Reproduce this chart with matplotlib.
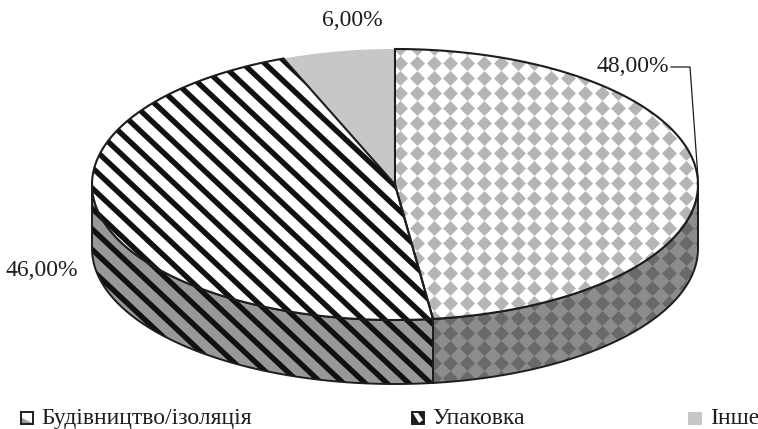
import numpy as np
import matplotlib
matplotlib.use('Agg')
import matplotlib.pyplot as plt
from matplotlib.patches import Polygon, Rectangle

# data
names = ['Будівництво/ізоляція', 'Упаковка', 'Інше']
shares = [48.0, 46.0, 6.0]
share_labels = ['48,00%', '46,00%', '6,00%']

plt.rcParams['font.family'] = ['Liberation Serif', 'DejaVu Serif']

W, H = 758, 429
cx, cy, a, b = 395, 184.5, 303, 135.5
depth = 64
INK = '#1e1c1d'
FS = 17

fig = plt.figure(figsize=(W / 100, H / 100), dpi=100)
ax = fig.add_axes([0, 0, 1, 1])
ax.set_xlim(0, W)
ax.set_ylim(H, 0)
ax.axis('off')


def arc(t0, t1, dy=0):
    t = np.radians(np.linspace(t0, t1, 200))
    return np.column_stack([cx + a * np.sin(t), cy - b * np.cos(t) + dy])


def diamonds(patch, color, z):
    xs = 400 + 16.8 * np.arange(-1, 20)
    ys = 63.3 + 15.0 * np.arange(-2, 23)
    gx, gy = np.meshgrid(xs, ys)
    pts = ax.scatter(gx.ravel(), gy.ravel(), marker='D', s=58, color=color,
                     linewidths=0, zorder=z)
    pts.set_clip_path(patch)


def stripes(patch, z):
    for c in np.arange(-1 - 20.5 * 30, 500, 20.5):
        ln, = ax.plot([0, W], [c, c + W * 0.94], color='#111111', lw=3.9,
                      solid_capstyle='butt', zorder=z)
        ln.set_clip_path(patch)


angles = np.cumsum([0] + shares) * 3.6

# side walls
wall1 = np.vstack([arc(90, angles[1]), arc(90, angles[1], depth)[::-1]])
wall2 = np.vstack([arc(angles[1], 270), arc(angles[1], 270, depth)[::-1]])
p1 = Polygon(wall1, closed=True, fc='#8b8c8e', ec='none', zorder=1)
p2 = Polygon(wall2, closed=True, fc='#97989a', ec='none', zorder=1)
ax.add_patch(p1)
ax.add_patch(p2)
diamonds(p1, '#68696b', 2)
stripes(p2, 2)
ax.add_patch(Polygon(wall1, closed=True, fc='none', ec=INK, lw=1.4, zorder=3))
ax.add_patch(Polygon(wall2, closed=True, fc='none', ec=INK, lw=1.4, zorder=3))

# top slices
tops = []
for i in range(3):
    tops.append(np.vstack([[cx, cy], arc(angles[i], angles[i + 1])]))
s1 = Polygon(tops[0], closed=True, fc='white', ec='none', zorder=4)
s2 = Polygon(tops[1], closed=True, fc='white', ec='none', zorder=4)
s3 = Polygon(tops[2], closed=True, fc='#c6c7c9', ec='none', zorder=4)
ax.add_patch(s1)
ax.add_patch(s2)
ax.add_patch(s3)
diamonds(s1, '#b3b5b8', 5)
stripes(s2, 5)
ax.add_patch(Polygon(tops[0], closed=True, fc='none', ec=INK, lw=1.5, zorder=6))
ax.add_patch(Polygon(tops[1], closed=True, fc='none', ec=INK, lw=1.5, zorder=6))

# labels
ax.text(669, 67, share_labels[0], ha='right', va='center', fontsize=FS, color=INK)
ax.text(78, 271, share_labels[1], ha='right', va='center', fontsize=FS, color=INK)
ax.text(352, 20, share_labels[2], ha='center', va='center', fontsize=FS, color=INK)
ax.plot([671, 690, 698], [67, 67, 178], color=INK, lw=0.9, zorder=7)

# legend
lx = [21, 412, 688]
tx = [41, 432, 710]
ax.add_patch(Rectangle((lx[0], 412), 12, 12, fc='white', ec=INK, lw=1.4))
ax.add_patch(Polygon([[lx[0] + 1, 423], [lx[0] + 1, 418], [lx[0] + 11, 423]],
                     closed=True, fc='#9a9b9d', ec='none', zorder=3))
ax.add_patch(Rectangle((lx[1], 412), 12, 12, fc=INK, ec=INK, lw=1.4))
ax.add_patch(Polygon([[lx[1] + 1, 413], [lx[1] + 6, 413], [lx[1] + 11, 420], [lx[1] + 7, 423]],
                     closed=True, fc='white', ec='none', zorder=3))
ax.add_patch(Rectangle((lx[2], 412), 14, 13, fc='#c6c7c9', ec='none'))
for x, name in zip(tx, names):
    ax.text(x, 424, name, ha='left', va='baseline', fontsize=FS, color=INK)

fig.savefig('out.png', dpi=100)
